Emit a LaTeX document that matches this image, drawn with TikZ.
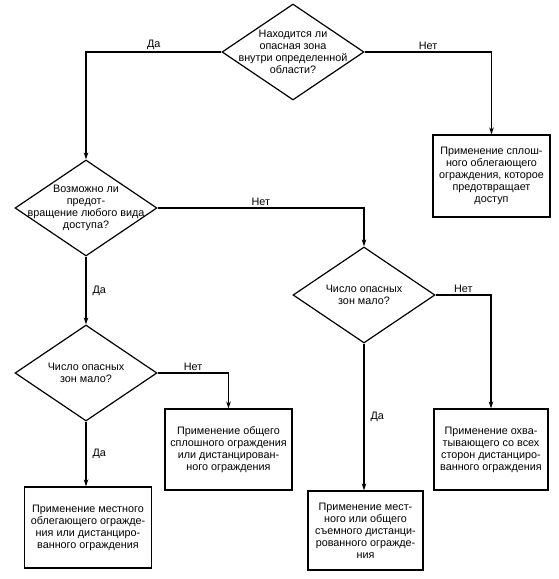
\documentclass[tikz,border=0pt]{standalone}
\usepackage{fontspec}
\setmainfont{Liberation Sans}
\usetikzlibrary{arrows.meta,shapes.geometric}
\begin{document}
\begin{tikzpicture}[x=1pt,y=-1pt,
  txt/.style={font=\fontsize{10.8}{12}\selectfont, align=center, inner sep=0pt},
  dia/.style={draw, line width=1.2pt, diamond, minimum width=142pt, minimum height=96pt, inner sep=0pt},
  boxn/.style={draw, line width=1.2pt, rectangle, txt},
  conn/.style={line width=1.2pt, -{Stealth[length=7pt,width=4.5pt]}},
  lbl/.style={font=\fontsize{10.8}{12}\selectfont, inner sep=2pt}
]
\useasboundingbox (0,0) rectangle (559,579);

% diamonds
\node[dia] (d1) at (293,52) {};
\node[txt] (t1) at (d1) {Находится ли\\опасная зона\\внутри определенной\\области?};
\node[dia] (d2) at (86,208) {};
\node[txt] (t2) at (d2) {Возможно ли\\предот-\\вращение любого вида\\доступа?};
\node[dia] (d3) at (364,295) {};
\node[txt] (t3) at (d3) {Число опасных\\зон мало?};
\node[dia] (d4) at (86,373) {};
\node[txt] (t4) at (d4) {Число опасных\\зон мало?};

% boxes
\node[boxn, minimum width=117pt, minimum height=82pt] (b1) at (491.5,176) {Применение сплош-\\ного облегающего\\ограждения, которое\\предотвращает\\доступ};
\node[boxn, minimum width=127pt, minimum height=81pt] (b3) at (228.5,449.5) {Применение общего\\сплошного ограждения\\или дистанцирован-\\ного ограждения};
\node[boxn, minimum width=127pt, minimum height=81pt] (b4) at (88,527.5) {Применение местного\\облегающего огражде-\\ния или дистанциро-\\ванного ограждения};
\node[boxn, minimum width=114pt, minimum height=81pt] (b5) at (491,449.5) {Применение охва-\\тывающего со всех\\сторон дистанциро-\\ванного ограждения};
\node[boxn, minimum width=115pt, minimum height=79pt] (b6) at (365.5,530.5) {Применение мест-\\ного или общего\\съемного дистанци-\\рованного огражде-\\ния};

% connectors
\draw[conn] (d1.west) -| node[lbl, pos=0.25, above] (l1) {Да} (d2.north);
\draw[conn] (d1.east) -| node[lbl, pos=0.25, above] (l2) {Нет} (b1.north);
\draw[conn] (d2.east) -| node[lbl, pos=0.25, above] (l3) {Нет} (d3.north);
\draw[conn] (d2.south) -- node[lbl, right=4pt] (l4) {Да} (d4.north);
\draw[conn] (d3.east) -| node[lbl, pos=0.25, above] (l5) {Нет} (b5.north);
\draw[conn] (d3.south) -- node[lbl, right=4pt] (l6) {Да} (d3.south |- b6.north);
\draw[conn] (d4.east) -| node[lbl, pos=0.25, above] (l7) {Нет} (b3.north);
\draw[conn] (d4.south) -- node[lbl, right=4pt] (l8) {Да} (d4.south |- b4.north);
\end{tikzpicture}
\end{document}
